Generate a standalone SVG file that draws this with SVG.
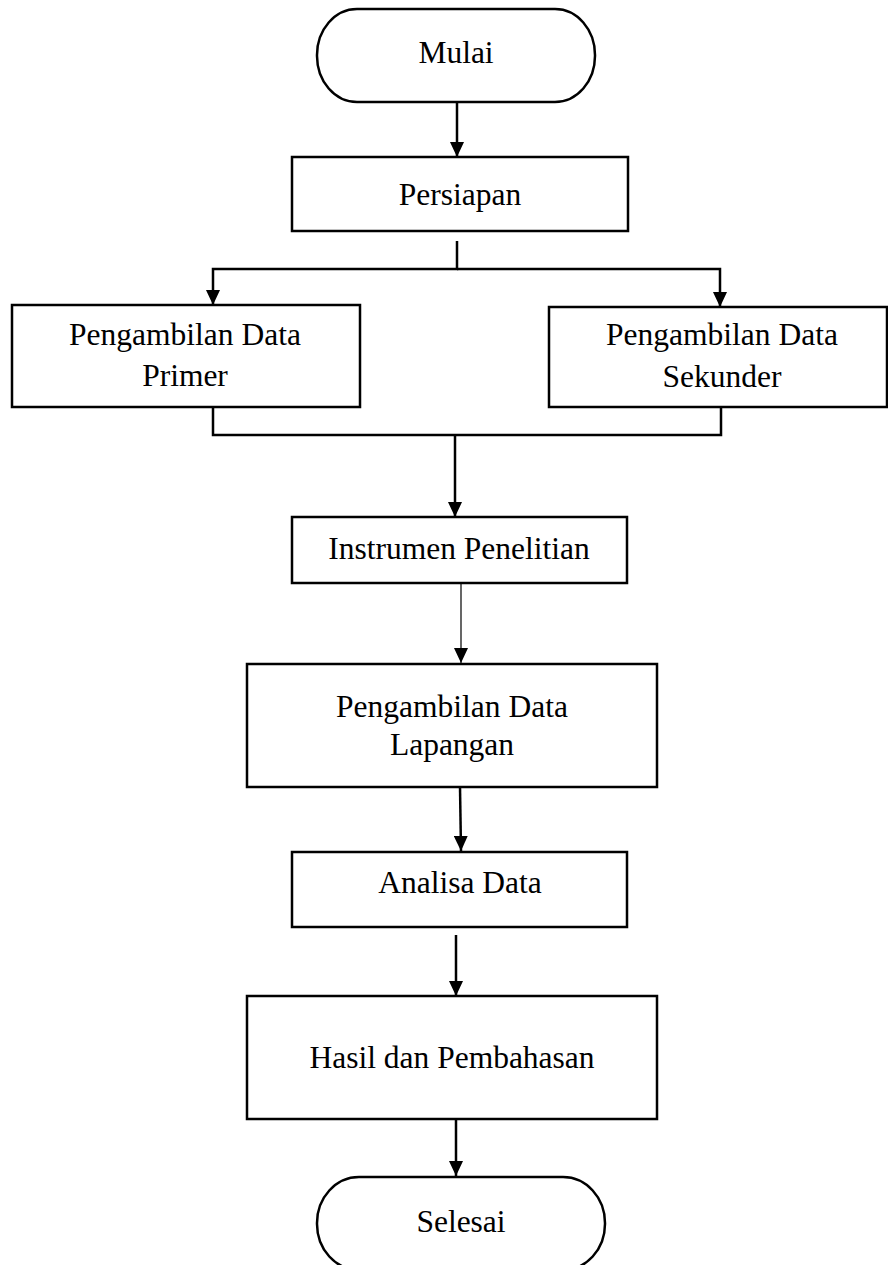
<svg xmlns="http://www.w3.org/2000/svg" width="888" height="1265" viewBox="0 0 888 1265">
<style>
.box{fill:#fff;stroke:#000;stroke-width:2.5}
.lbl{font-family:"Liberation Serif","Times New Roman",serif;font-size:31.5px;fill:#000;text-anchor:middle}
.ln{fill:none;stroke:#000;stroke-width:2.5}
.thin{fill:none;stroke:#000;stroke-width:1.2}
</style>
<defs>
<marker id="ah" viewBox="0 0 15 14" refX="15" refY="7" markerWidth="15" markerHeight="14" markerUnits="userSpaceOnUse" orient="auto">
<path d="M0,0 L15,7 L0,14 z" fill="#000"/>
</marker>
</defs>
<rect width="888" height="1265" fill="#fff"/>
<g id="connectors">
<line class="ln" x1="457" y1="102" x2="457" y2="157" marker-end="url(#ah)"/>
<polyline class="ln" points="457,241 457,269 213,269 213,305" marker-end="url(#ah)"/>
<polyline class="ln" points="457,269 720,269 720,307" marker-end="url(#ah)"/>
<polyline class="ln" points="213,407 213,435 721,435 721,407"/>
<line class="ln" x1="455" y1="435" x2="455" y2="517" marker-end="url(#ah)"/>
<line class="thin" x1="461" y1="583" x2="461" y2="663" marker-end="url(#ah)"/>
<line class="ln" x1="460" y1="787" x2="461" y2="851" marker-end="url(#ah)"/>
<line class="ln" x1="456" y1="935" x2="456" y2="996" marker-end="url(#ah)"/>
<line class="ln" x1="456" y1="1119" x2="456" y2="1176" marker-end="url(#ah)"/>
</g>
<g id="mulai">
<rect class="box" x="317" y="9" width="278" height="93" rx="40" ry="46"/>
<text class="lbl" x="456" y="63">Mulai</text>
</g>
<g id="persiapan">
<rect class="box" x="292" y="157" width="336" height="74"/>
<text class="lbl" x="460" y="205">Persiapan</text>
</g>
<g id="primer">
<rect class="box" x="12" y="305" width="348" height="102"/>
<text class="lbl" x="185" y="345">Pengambilan Data</text>
<text class="lbl" x="185" y="386">Primer</text>
</g>
<g id="sekunder">
<rect class="box" x="549" y="307" width="338" height="100"/>
<text class="lbl" x="722" y="345">Pengambilan Data</text>
<text class="lbl" x="722" y="387">Sekunder</text>
</g>
<g id="instrumen">
<rect class="box" x="292" y="517" width="335" height="66"/>
<text class="lbl" x="459" y="559">Instrumen Penelitian</text>
</g>
<g id="lapangan">
<rect class="box" x="247" y="664" width="410" height="123"/>
<text class="lbl" x="452" y="717">Pengambilan Data</text>
<text class="lbl" x="452" y="755">Lapangan</text>
</g>
<g id="analisa">
<rect class="box" x="292" y="852" width="335" height="75"/>
<text class="lbl" x="460" y="893">Analisa Data</text>
</g>
<g id="hasil">
<rect class="box" x="247" y="996" width="410" height="123"/>
<text class="lbl" x="452" y="1068">Hasil dan Pembahasan</text>
</g>
<g id="selesai">
<rect class="box" x="317" y="1177" width="288" height="93" rx="42" ry="46"/>
<text class="lbl" x="461" y="1232">Selesai</text>
</g>
</svg>
